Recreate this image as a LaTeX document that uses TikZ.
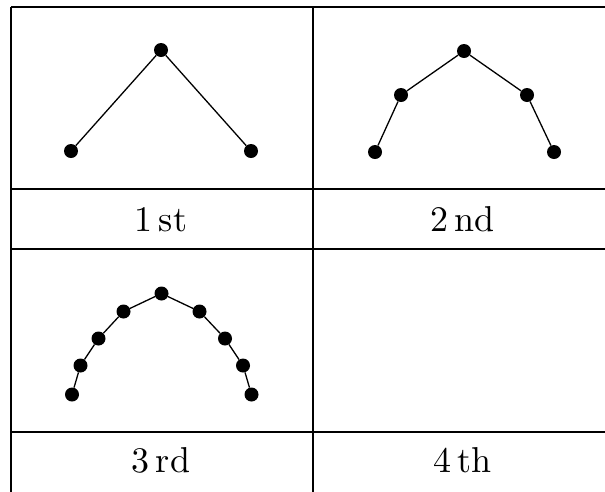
\documentclass[tikz,border=0pt]{standalone}
\begin{document}
\begin{tikzpicture}[x=1pt,y=-1pt,
  grid/.style={line width=1.6pt},
  curve/.style={line width=1.3pt},
  dot/.style={circle,fill=black,inner sep=0pt,minimum size=14pt},
  lbl/.style={font=\normalsize,scale=3.6,inner sep=0pt}]
\useasboundingbox (0,0) rectangle (605,491);
\clip (0,0) rectangle (605,491);
\fill[white] (0,0) rectangle (605,491);
% grid
\draw[grid] (11,7) -- (620,7);
\draw[grid] (11,189) -- (620,189);
\draw[grid] (11,249) -- (620,249);
\draw[grid] (11,432) -- (620,432);
\draw[grid] (11,7) -- (11,500);
\draw[grid] (313,7) -- (313,500);
% 1st
\node[dot] (a1) at (71,151) {};
\node[dot] (a2) at (161,50) {};
\node[dot] (a3) at (251,151) {};
\draw[curve] (a1) -- (a2) -- (a3);
% 2nd
\node[dot] (b1) at (375,152) {};
\node[dot] (b2) at (401,95) {};
\node[dot] (b3) at (464,51) {};
\node[dot] (b4) at (527,95) {};
\node[dot] (b5) at (554,152) {};
\draw[curve] (b1) -- (b2) -- (b3) -- (b4) -- (b5);
% 3rd
\node[dot] (c1) at (72,394.5) {};
\node[dot] (c2) at (80.5,365.5) {};
\node[dot] (c3) at (98.5,338.5) {};
\node[dot] (c4) at (123.5,311.5) {};
\node[dot] (c5) at (161.5,293.5) {};
\node[dot] (c6) at (199.5,311.5) {};
\node[dot] (c7) at (225,338.5) {};
\node[dot] (c8) at (243,365.5) {};
\node[dot] (c9) at (251.5,394.5) {};
\draw[curve] (c1) -- (c2) -- (c3) -- (c4) -- (c5) -- (c6) -- (c7) -- (c8) -- (c9);
% labels
\node[lbl,anchor=base] (l1) at (161,231) {1\,st};
\node[lbl,anchor=base] (l2) at (463,231) {2\,nd};
\node[lbl,anchor=base] (l3) at (161,472) {3\,rd};
\node[lbl,anchor=base] (l4) at (463,472) {4\,th};
\end{tikzpicture}
\end{document}
